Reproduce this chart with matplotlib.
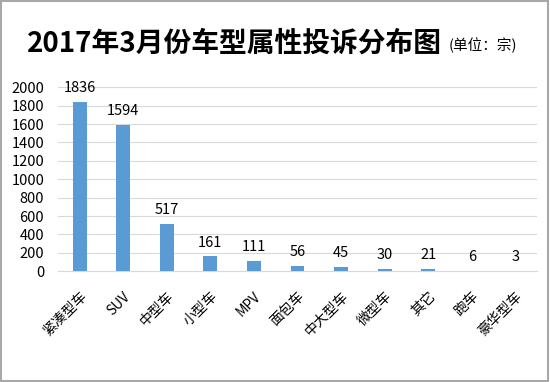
import matplotlib
matplotlib.use("Agg")
import matplotlib.pyplot as plt
from matplotlib.patches import Rectangle

plt.rcParams['font.family'] = ['Noto Sans CJK SC', 'DejaVu Sans']

categories = ['紧凑型车', 'SUV', '中型车', '小型车', 'MPV', '面包车', '中大型车', '微型车', '其它', '跑车', '豪华型车']
values = [1836, 1594, 517, 161, 111, 56, 45, 30, 21, 6, 3]
yticks = [0, 200, 400, 600, 800, 1000, 1200, 1400, 1600, 1800, 2000]
title = '2017年3月份车型属性投诉分布图'
unit = '(单位：宗)'

fig = plt.figure(figsize=(5.5, 3.82), dpi=100)
fig.patch.set_facecolor('white')
ax = fig.add_axes([0.1055, 0.2898, 0.8709, 0.4817])

x = list(range(len(categories)))
ax.bar(x, values, width=0.32, color='#5B9BD5', zorder=3)
for xi, v in zip(x, values):
    ax.annotate(str(v), (xi, v), xytext=(0, 5), textcoords='offset points',
                ha='center', va='bottom', fontsize=10.5, color='#000000')

ax.set_xlim(-0.5, len(categories) - 0.5)
ax.set_ylim(0, 2000)
ax.set_yticks(yticks)
ax.set_yticklabels([str(t) for t in yticks], fontsize=10.5)
ax.yaxis.grid(True, color='#D9D9D9', linewidth=0.8, zorder=0)
for s in ['top', 'right', 'left']:
    ax.spines[s].set_visible(False)
ax.spines['bottom'].set_color('#D9D9D9')
ax.spines['bottom'].set_linewidth(0.8)
ax.tick_params(axis='y', length=0, pad=10)
ax.tick_params(axis='x', length=0, pad=13)
ax.set_xticks(x)
ax.set_xticklabels(categories, rotation=45, ha='right', rotation_mode='anchor', fontsize=10)
for lbl in ax.get_yticklabels():
    lbl.set_clip_on(False)

fig.text(0.049, 0.887, title, fontsize=20, fontweight='bold', ha='left', va='center')
fig.text(0.815, 0.882, unit, fontsize=10.5, ha='left', va='center')

fig.add_artist(Rectangle((0.002, 0.003), 0.995, 0.994, transform=fig.transFigure,
                         fill=False, edgecolor='#A8A8A8', linewidth=1.5))

fig.savefig('out.png', dpi=100)
